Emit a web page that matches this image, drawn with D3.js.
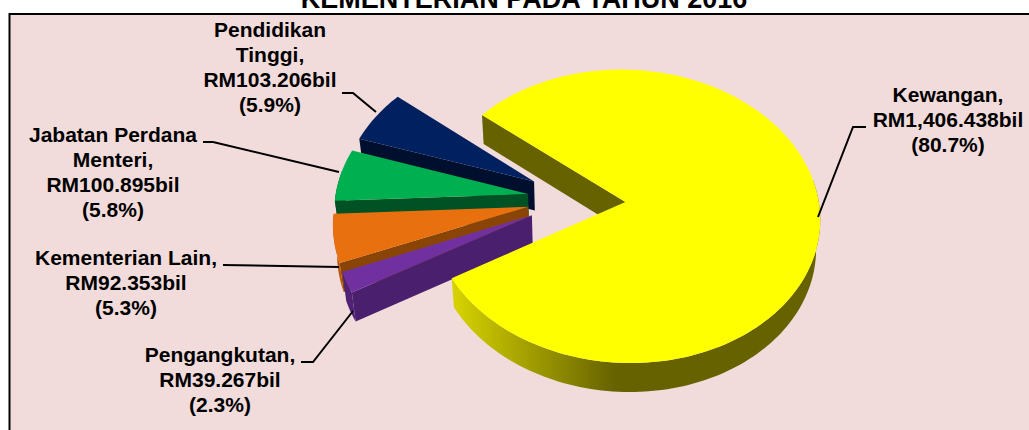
<!DOCTYPE html>
<html><head><meta charset="utf-8">
<script src="https://cdn.jsdelivr.net/npm/d3@7/dist/d3.min.js"></script>
<style>html,body{margin:0;padding:0;background:#fff;overflow:hidden}svg{display:block}text{font-family:"Liberation Sans",Arial,sans-serif;font-weight:700;fill:#000}</style>
</head><body><svg id="c" width="1029" height="430"></svg>
<script>
const categories = ["Kewangan","Pengangkutan","Kementerian Lain","Jabatan Perdana Menteri","Pendidikan Tinggi"];
const values = [1406.438,39.267,92.353,100.895,103.206];
const topColors = ["#ffff00","#7030a0","#e8700e","#00b050","#002060"];
const sideColors = ["#666200","#4a1f6e","#8a4506","#005224","#000f2e"];
const rimColors = ["url(#rim)","#4f2275","#b5590b","#005224","#000f2e"];
const labelLines = [
  ["Kewangan,","RM1,406.438bil","(80.7%)"],
  ["Pengangkutan,","RM39.267bil","(2.3%)"],
  ["Kementerian Lain,","RM92.353bil","(5.3%)"],
  ["Jabatan Perdana","Menteri,","RM100.895bil","(5.8%)"],
  ["Pendidikan","Tinggi,","RM103.206bil","(5.9%)"]
];
const labelX = [948,220,126,113,270];
const labelY = [102,362,265,142,37];
const leaders = [
  [[866,127],[853,127],[818,217]],
  [[301,362],[313,362],[353,311]],
  [[223,265],[339,267]],
  [[203,142],[213,142],[339,172]],
  [[342,93],[353,93],[376,112]]
];
const titleText = "KEMENTERIAN PADA TAHUN 2016";

const W=1029,H=430, cx=576.5, cy=199, R=193, explode=49, tilt=0.75, persp=0.0005, depth=29, baseShrink=0.983;
const deg=Math.PI/180, startA=-50.5*deg;
const svg=d3.select("#c");
const defs=svg.append("defs");
const g=defs.append("linearGradient").attr("id","rim").attr("gradientUnits","userSpaceOnUse")
  .attr("x1",452).attr("x2",615).attr("y1",0).attr("y2",0);
g.append("stop").attr("offset",0).attr("stop-color","#d8d400");
g.append("stop").attr("offset",1).attr("stop-color","#666200");

svg.append("rect").attr("x",9.5).attr("y",14).attr("width",W+20).attr("height",H+20)
  .attr("fill","#f2dcdb").attr("stroke","#000").attr("stroke-width",2);
svg.append("text").attr("x",524).attr("y",8).attr("text-anchor","middle").attr("font-size",27).text(titleText);

const pie=d3.pie().sort(null).startAngle(startA).endAngle(startA+2*Math.PI);
const arcs=pie(values);
const line=d3.line();
function project(X,Y,bottom){
  const s=1/(1-persp*Y);
  const x=cx+X*s, y=cy+tilt*Y*s;
  return bottom?[cx+(x-cx)*baseShrink,y+depth]:[x,y];
}
function geom(a){
  const mid=(a.startAngle+a.endAngle)/2;
  const ox=explode*Math.sin(mid), oy=-explode*Math.cos(mid);
  const n=Math.max(3,Math.ceil((a.endAngle-a.startAngle)/(1.5*deg)));
  const ang=d3.range(n+1).map(i=>a.startAngle+(a.endAngle-a.startAngle)*i/n);
  const plane=ang.map(t=>[ox+R*Math.sin(t),oy-R*Math.cos(t)]);
  return {ox,oy,plane,ang};
}
[4,3,2,1,0].forEach(i=>{
  const gm=geom(arcs[i]);
  const G=svg.append("g");
  const top=gm.plane.map(p=>project(p[0],p[1],false));
  const bot=gm.plane.map(p=>project(p[0],p[1],true));
  const apexT=project(gm.ox,gm.oy,false), apexB=project(gm.ox,gm.oy,true);
  G.append("path").attr("d",line([apexT,top[0],bot[0],apexB])+"Z").attr("fill",sideColors[i]);
  const front=d3.range(top.length).filter(j=>Math.cos(gm.ang[j])<0.17);
  if(front.length>1){
    const rt=front.map(j=>top[j]), rb=front.map(j=>bot[j]).reverse();
    G.append("path").attr("d",line(rt.concat(rb))+"Z").attr("fill",rimColors[i]);
  }
  G.append("path").attr("d",line([apexT].concat(top))+"Z").attr("fill",topColors[i]);
});

leaders.forEach(pts=>{
  svg.append("path").attr("d",line(pts)).attr("fill","none").attr("stroke","#000").attr("stroke-width",2);
});
labelLines.forEach((ls,i)=>{
  const t=svg.append("text").attr("text-anchor","middle").attr("font-size",21);
  ls.forEach((s,j)=>t.append("tspan").attr("x",labelX[i]).attr("y",labelY[i]+j*25).text(s));
});
</script></body></html>
